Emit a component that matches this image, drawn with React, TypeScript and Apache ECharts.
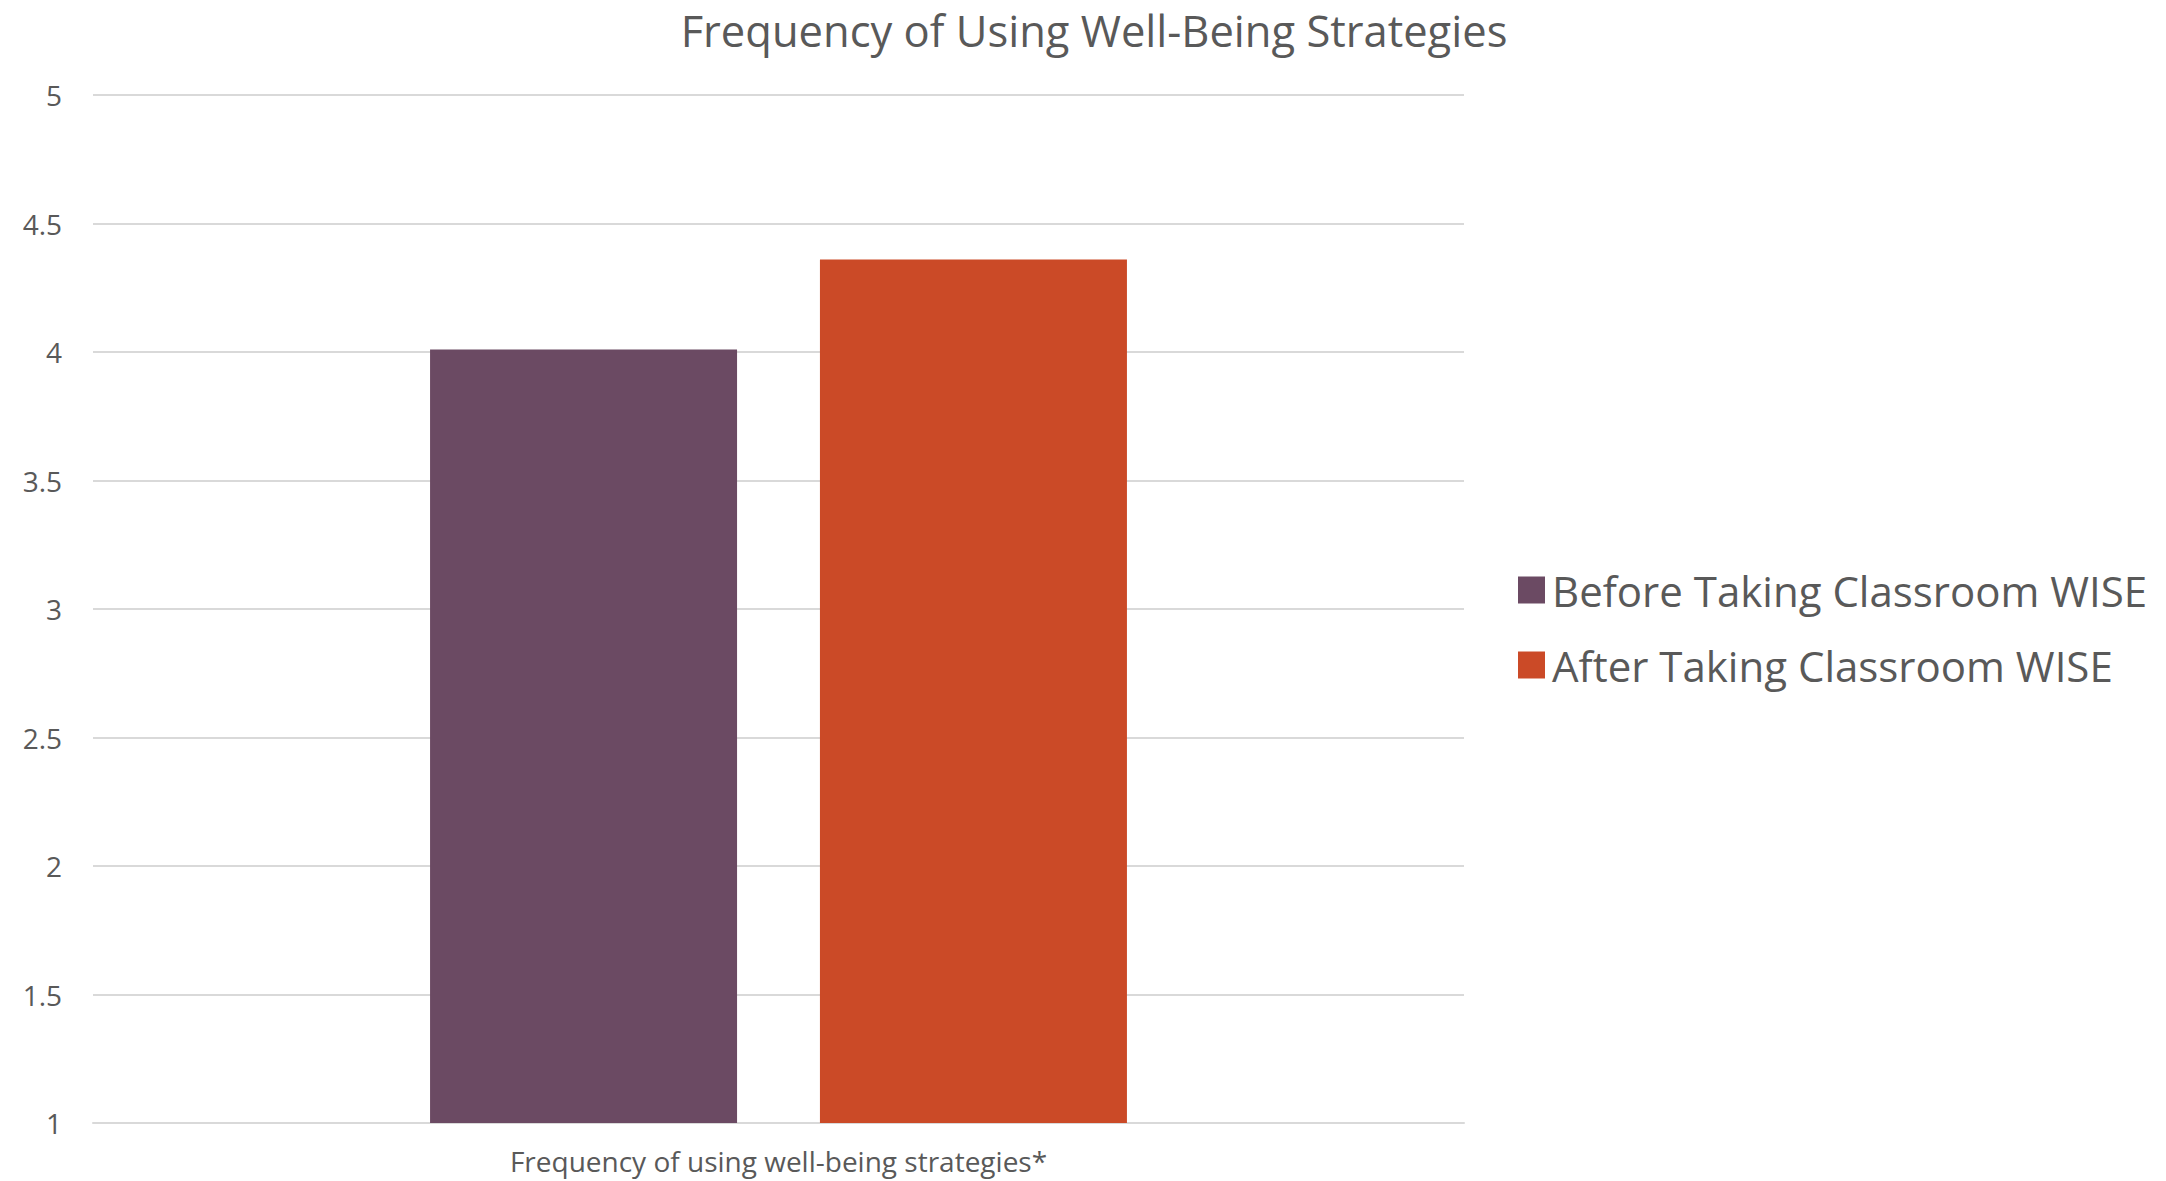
import React, { useEffect, useRef } from "react";
import * as echarts from "echarts";

// Survey summary: mean frequency of using well-being strategies
const categories = ["Frequency of using well-being strategies*"];
const seriesNames = ["Before Taking Classroom WISE", "After Taking Classroom WISE"];
const beforeValues = [4.01];
const afterValues = [4.36];
const seriesColors = ["#6B4A63", "#CB4A27"];
const yMin = 1;
const yMax = 5;
const yStep = 0.5;

const FONT = "'Open Sans', 'Noto Sans', sans-serif";
const TEXT = "#595959";
const GRID = "#D9D9D9";

export default function App() {
  const ref = useRef<HTMLDivElement>(null);

  useEffect(() => {
    document.body.style.margin = "0";
    if (!ref.current) return;
    const chart = echarts.init(ref.current, null, { renderer: "svg" });
    chart.setOption({
      animation: false,
      backgroundColor: "#FFFFFF",
      title: {
        text: "Frequency of Using Well-Being Strategies",
        left: 1089,
        textAlign: "center",
        top: 3,
        textStyle: { fontFamily: FONT, fontSize: 43.5, fontWeight: "normal", color: TEXT },
      },
      legend: {
        orient: "vertical",
        left: 1513,
        top: 564,
        itemWidth: 27,
        itemHeight: 27,
        itemGap: 33,
        icon: "rect",
        textStyle: { fontFamily: FONT, fontSize: 42, color: TEXT, padding: [0, 0, 0, 2] },
        data: seriesNames,
      },
      grid: { left: 93, right: 702, top: 95, bottom: 58, containLabel: false },
      xAxis: {
        type: "category",
        data: categories,
        axisLine: { show: true, lineStyle: { color: GRID, width: 2 } },
        axisTick: { show: false },
        axisLabel: { fontFamily: FONT, fontSize: 28, color: TEXT, margin: 24 },
      },
      yAxis: {
        type: "value",
        min: yMin,
        max: yMax,
        interval: yStep,
        axisLine: { show: false },
        axisTick: { show: false },
        splitLine: { lineStyle: { color: GRID, width: 2 } },
        axisLabel: { fontFamily: FONT, fontSize: 28, color: TEXT, margin: 31 },
      },
      series: [
        {
          name: seriesNames[0],
          type: "bar",
          data: beforeValues,
          barWidth: 307,
          barGap: "27%",
          itemStyle: { color: seriesColors[0] },
        },
        {
          name: seriesNames[1],
          type: "bar",
          data: afterValues,
          barWidth: 307,
          barGap: "27%",
          itemStyle: { color: seriesColors[1] },
        },
      ],
    });
    return () => chart.dispose();
  }, []);

  return <div ref={ref} style={{ width: 2166, height: 1181 }} />;
}
